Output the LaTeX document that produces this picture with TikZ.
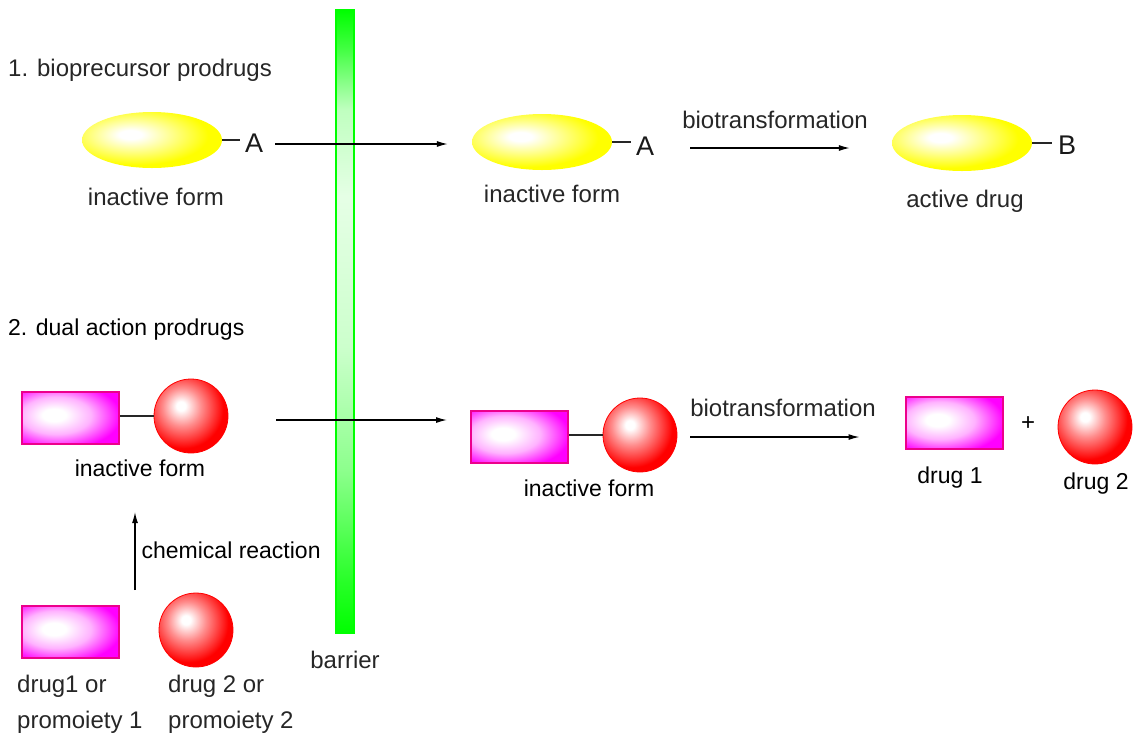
\documentclass[tikz,border=0pt]{standalone}
\usepackage{fontspec}
\setmainfont{Liberation Sans}
\usetikzlibrary{shapes.geometric,arrows.meta}

% glossy fills for the molecule pieces (the filled shape spans -25bp..25bp)
\pgfdeclareradialshading{yellowgloss}{\pgfpoint{-8bp}{5bp}}{%
  color(0bp)=(white); color(4bp)=(white); color(14bp)=(yellow!45);
  color(26bp)=(yellow); color(100bp)=(yellow)}
\pgfdeclareradialshading{redgloss}{\pgfpoint{-7bp}{7bp}}{%
  color(0bp)=(white); color(3bp)=(white); color(13bp)=(red!45);
  color(27bp)=(red); color(100bp)=(red)}
\pgfdeclareradialshading{magentagloss}{\pgfpoint{-9bp}{3bp}}{%
  color(0bp)=(white); color(6bp)=(white); color(18bp)=(magenta!30);
  color(32bp)=(magenta); color(100bp)=(magenta)}
% membrane: bottom edge at 25bp, top edge at 75bp
\pgfdeclareverticalshading{wallshade}{100bp}{%
  color(0bp)=(green); color(25bp)=(green); color(29bp)=(green!85);
  color(38bp)=(green!45); color(48bp)=(green!20); color(60bp)=(green!10);
  color(67bp)=(green!25); color(72bp)=(green!75); color(75bp)=(green); color(100bp)=(green)}

\tikzset{
  x=1pt, y=-1pt,
  toptext/.style={font=\fontsize{24}{28}\selectfont, text=black!85, inner sep=0pt},
  lowtext/.style={font=\fontsize{23}{27}\selectfont, text=black, inner sep=0pt},
  atomlbl/.style={font=\fontsize{27}{30}\selectfont, text=black!90, inner sep=0pt},
  pill/.style={ellipse, minimum width=140pt, minimum height=56pt, inner sep=0pt,
    shading=yellowgloss},
  ball/.style={circle, minimum size=74pt, inner sep=0pt,
    shading=redgloss, draw=red, line width=0.8pt},
  slab/.style={rectangle, minimum width=97pt, minimum height=52pt, inner sep=0pt,
    shading=magentagloss, draw=magenta, line width=2pt},
  bond/.style={draw=black!85, line width=1.3pt},
  react/.style={draw=black, line width=1.3pt, -{Latex[length=11pt,width=6pt]}},
}

\begin{document}
\begin{tikzpicture}
\useasboundingbox (0,0) rectangle (1135,740);

% membrane barrier
\node[minimum width=18pt, minimum height=623pt, inner sep=0pt,
      shading=wallshade, draw=green, line width=1.5pt] (wall) at (345,321.5) {};
\node[toptext] (walllbl) at (345,660) {barrier};

% ---- 1. bioprecursor prodrugs ----
\node[toptext, anchor=west] (head1) at (8,70) {1. bioprecursor prodrugs};

\node[pill] (e1) at (152,140) {};
\node[atomlbl, anchor=west] (a1) at (245,143) {A};
\draw[bond] (e1.east) -- ([xshift=-5pt]e1.east -| a1.west);
\node[toptext] (l1) at (156,197) {inactive form};

\node[pill] (e2) at (542,142) {};
\node[atomlbl, anchor=west] (a2) at (636,146) {A};
\draw[bond] (e2.east) -- ([xshift=-5pt]e2.east -| a2.west);
\node[toptext] (l2) at (552,194) {inactive form};

\node[pill] (e3) at (962,143) {};
\node[atomlbl, anchor=west] (b3) at (1058,145) {B};
\draw[bond] (e3.east) -- ([xshift=-6pt]e3.east -| b3.west);
\node[toptext] (l3) at (965,201) {active drug};

\draw[react] ([xshift=12pt,yshift=-1pt]a1.east) -- ([xshift=-24pt,yshift=-1pt]a1.east -| e2.west);
\node[toptext] (bt1) at (775,120) {biotransformation};
\draw[react] ([xshift=36pt,yshift=-2pt]a2.east) -- ([xshift=-42pt,yshift=-2pt]a2.east -| e3.west);

% ---- 2. dual action prodrugs ----
\node[lowtext, anchor=west] (head2) at (8,330) {2. dual action prodrugs};

\node[slab] (r1) at (70.5,418) {};
\node[ball] (s1) at (191,416) {};
\draw[bond] (r1.east |- s1.west) -- (s1.west);
\node[lowtext] (l4) at (140,468) {inactive form};

\node[slab] (r2) at (519.5,437) {};
\node[ball] (s2) at (640,435) {};
\draw[bond] (r2.east |- s2.west) -- (s2.west);
\node[lowtext] (l5) at (589,488) {inactive form};

\node[slab] (r3) at (954,423) {};
\node[lowtext, font=\fontsize{24}{26}\selectfont] (plus) at (1028,424) {+};
\node[ball] (s3) at (1095,427) {};
\node[lowtext] (l6) at (950,478) {drug 1};
\node[lowtext] (l7) at (1096,484) {drug 2};

\draw[react] ([xshift=48pt,yshift=-4pt]s1.east) -- ([xshift=-23pt,yshift=-4pt]s1.east -| r2.west);
\node[toptext] (bt2) at (783,408) {biotransformation};
\draw[react] ([xshift=13pt,yshift=-2pt]s2.east) -- ([xshift=-45pt,yshift=-2pt]s2.east -| r3.west);

% starting materials
\node[slab] (r4) at (70.5,632) {};
\node[ball] (s4) at (196,630) {};
\node[toptext, anchor=west, align=left, font=\fontsize{24}{36}\selectfont] (l8) at (17,704) {drug1 or\\promoiety 1};
\node[toptext, anchor=west, align=left, font=\fontsize{24}{36}\selectfont] (l9) at (168,704) {drug 2 or\\promoiety 2};

\coordinate (rxnfrom) at (135,590);
\coordinate (rxnto) at (135,512);
\draw[react] (rxnfrom) -- (rxnto) node[lowtext, midway, anchor=west, xshift=6pt, yshift=1pt] (rxnlbl) {chemical reaction};
\end{tikzpicture}
\end{document}
